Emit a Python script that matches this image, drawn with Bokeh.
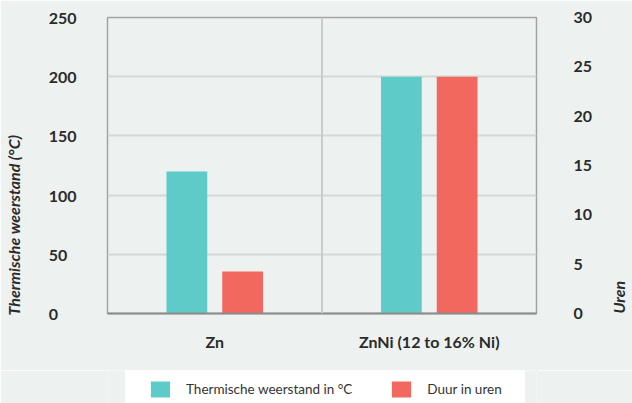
import math
from bokeh.plotting import figure
from bokeh.layouts import column
from bokeh.models import ColumnDataSource, LinearAxis, Range1d, Span, Legend, LegendItem, FixedTicker
from bokeh.transform import dodge
from bokeh.embed import file_html
from bokeh.resources import INLINE

categories = ["Zn", "ZnNi (12 to 16% Ni)"]
thermal_c = [120, 200]
hours = [4.25, 24]
left_ticks = [0, 50, 100, 150, 200, 250]
right_ticks = [0, 5, 10, 15, 20, 25, 30]
series_names = ["Thermische weerstand in °C", "Duur in uren"]
left_title = "Thermische weerstand (°C)"
right_title = "Uren"

BG = "#edf2f0"
TEAL = "#5ecbc9"
RED = "#f2675e"
FONT = "Lato"
TXT = "#2b2b2b"
FSP = "\u2007"  # figure space, only used to position the rotated axis title / align tick labels
WJ = "\u2060"

src = ColumnDataSource(dict(cat=categories, t=thermal_c, h=hours))

BORDERS = dict(min_border_left=107, min_border_right=96)

p = figure(x_range=categories, y_range=Range1d(0, 250),
           frame_width=429, frame_height=296,
           output_backend="svg", toolbar_location=None,
           background_fill_color=BG, border_fill_color=BG,
           min_border_top=17, min_border_bottom=57, **BORDERS)
p.extra_y_ranges = {"right": Range1d(0, 30)}

r1 = p.vbar(x=dodge("cat", -0.13, range=p.x_range), top="t", width=0.19, source=src,
            color=TEAL, line_color=None)
r2 = p.vbar(x=dodge("cat", 0.13, range=p.x_range), top="h", width=0.19, source=src,
            color=RED, line_color=None, y_range_name="right")

p.outline_line_color = "#a3a3a3"
p.outline_line_width = 1.5

p.xgrid.visible = False
p.ygrid.ticker = FixedTicker(ticks=left_ticks)
p.ygrid.grid_line_color = "#d4d7d6"
p.ygrid.grid_line_width = 2
p.add_layout(Span(location=1, dimension="height", line_color="#c9cccb", line_width=2))


def style_axis(ax):
    ax.axis_label_text_font = FONT
    ax.axis_label_text_font_style = "bold italic"
    ax.axis_label_text_font_size = "16px"
    ax.axis_label_text_color = TXT
    ax.major_label_text_font = FONT
    ax.major_label_text_font_style = "bold"
    ax.major_label_text_font_size = "16px"
    ax.major_label_text_color = TXT
    ax.major_tick_line_color = None
    ax.minor_tick_line_color = None
    ax.major_tick_out = 0
    ax.major_tick_in = 0
    ax.minor_tick_out = 0
    ax.minor_tick_in = 0


# left axis
ya = p.yaxis[0]
style_axis(ya)
ya.ticker = FixedTicker(ticks=left_ticks)
width_digits = max(len(str(t)) for t in left_ticks)
ya.major_label_overrides = {t: str(t) + FSP * (width_digits - len(str(t))) + WJ for t in left_ticks}
ya.axis_label = left_title + FSP * 14
ya.axis_label_align = "center"
ya.axis_label_standoff = 23
ya.major_label_standoff = 31
ya.axis_line_color = None

# right axis
ra = LinearAxis(y_range_name="right", ticker=FixedTicker(ticks=right_ticks))
style_axis(ra)
ra.axis_label = right_title
ra.axis_label_orientation = math.pi / 2
ra.axis_label_align = "start"
ra.axis_label_standoff = 23
ra.major_label_standoff = 37
ra.axis_line_color = None
p.add_layout(ra, "right")

# x axis
xa = p.xaxis[0]
style_axis(xa)
xa.major_label_standoff = 18
xa.axis_line_color = "#8c8c8c"
xa.axis_line_width = 2

# legend strip below the chart (same borders so both canvases line up)
pl = figure(frame_width=429, frame_height=33, output_backend="svg", toolbar_location=None,
            x_axis_location=None, y_axis_location=None,
            x_range=Range1d(-2, -1), y_range=Range1d(-2, -1),
            background_fill_color=BG, border_fill_color=BG, outline_line_color=None,
            min_border_top=0, min_border_bottom=0, **BORDERS)
pl.grid.visible = False
# legend swatches: same series, kept outside this strip's visible ranges
k1 = pl.vbar(x="t", top="t", width=0.5, source=src, color=TEAL, line_color=None)
k2 = pl.vbar(x="t", top="h", width=0.5, source=src, color=RED, line_color=None)

legend = Legend(items=[LegendItem(label=series_names[0], renderers=[k1]),
                       LegendItem(label=series_names[1], renderers=[k2])],
                orientation="horizontal", location=(18, -19),
                background_fill_color="white", background_fill_alpha=1,
                border_line_color="white", border_line_alpha=1,
                padding=22, spacing=37,
                glyph_width=24, glyph_height=20, label_height=20, label_standoff=14,
                label_text_font=FONT, label_text_font_size="13.5px", label_text_color="#333333",
                margin=0)
pl.add_layout(legend, "center")

layout = column(p, pl, spacing=0)

html = file_html(layout, INLINE)
html = html.replace("<body>", '<body style="background:%s; overflow:hidden">' % BG, 1)
open("out.html", "w").write(html)
